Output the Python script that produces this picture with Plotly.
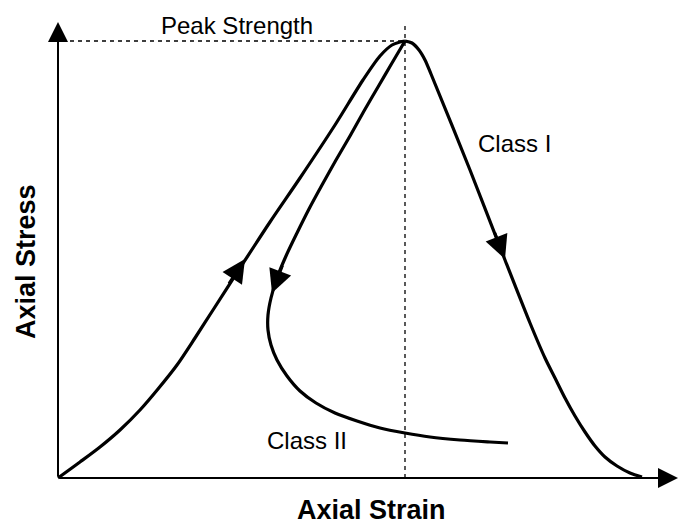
import plotly.graph_objects as go

# Arbitrary units: axial strain (x) and axial stress (y)
load_x = [0, 22, 42, 62, 82, 100, 119, 137, 155, 182, 212, 242, 277, 305, 322, 334, 342, 347]
load_y = [0, 16, 31, 48, 68, 89, 113, 140, 168, 210, 256, 300, 353, 398, 422, 433, 436, 437]

c1_x = [347, 354, 361, 367, 373, 412, 447, 472, 487, 497, 507, 517, 527, 537, 547, 559, 572, 584]
c1_y = [437, 435, 428, 418, 404, 308, 218, 155, 120, 100, 80, 62, 46, 32, 21, 12, 5, 1]

c2_x = [347, 334, 320, 306, 292, 278, 264, 251, 239, 228, 219, 213, 210, 210, 213, 219, 229,
        242, 258, 277, 299, 322, 347, 372, 402, 432, 450]
c2_y = [437, 415, 391, 367, 342, 318, 293, 269, 245, 222, 200, 180, 163, 148, 133, 118, 102,
        87, 75, 65, 57, 50, 45, 41, 38, 36, 35]

peak_x = 347
peak_y = 437
y_axis_top = 456
x_axis_end = 620

fig = go.Figure()

line_style = dict(color="black", width=3.2, shape="spline", smoothing=0.8)
for xs, ys in [(load_x, load_y), (c1_x, c1_y), (c2_x, c2_y)]:
    fig.add_trace(go.Scatter(x=xs, y=ys, mode="lines", line=line_style,
                             showlegend=False, hoverinfo="skip"))

dash_style = dict(color="black", width=1.3, dash="4px,4px")
fig.add_trace(go.Scatter(x=[4, peak_x], y=[peak_y, peak_y], mode="lines", line=dash_style,
                         showlegend=False, hoverinfo="skip"))
fig.add_trace(go.Scatter(x=[peak_x, peak_x], y=[0, 453], mode="lines", line=dash_style,
                         showlegend=False, hoverinfo="skip"))

annotations = []
# Axis arrows
annotations.append(dict(x=0, y=y_axis_top, ax=0, ay=0, xref="x", yref="y", axref="x", ayref="y",
                        text="", showarrow=True, arrowhead=2, arrowsize=2, arrowwidth=2,
                        arrowcolor="black"))
annotations.append(dict(x=x_axis_end, y=0, ax=0, ay=0, xref="x", yref="y", axref="x", ayref="y",
                        text="", showarrow=True, arrowhead=2, arrowsize=2, arrowwidth=2,
                        arrowcolor="black"))
# Direction arrows on curves (tip, tail)
for (tx, ty, bx, by) in [(187, 219, 170, 193), (447, 219, 436, 247), (214, 185, 225, 214)]:
    annotations.append(dict(x=tx, y=ty, ax=bx, ay=by, xref="x", yref="y", axref="x", ayref="y",
                            text="", showarrow=True, arrowhead=2, arrowsize=1.55, arrowwidth=3,
                            arrowcolor="black"))

font_n = dict(family="Liberation Sans, Arial, sans-serif", size=24, color="black")
font_b = dict(family="Liberation Sans, Arial, sans-serif", size=27, color="black")
annotations += [
    dict(x=179, y=453, xref="x", yref="y", text="Peak Strength", showarrow=False, font=font_n),
    dict(x=456, y=335, xref="x", yref="y", text="Class I", showarrow=False, font=font_n),
    dict(x=249, y=38, xref="x", yref="y", text="Class II", showarrow=False, font=font_n),
    dict(x=313, y=-32, xref="x", yref="y", text="<b>Axial Strain</b>", showarrow=False, font=font_b),
    dict(x=-32, y=216, xref="x", yref="y", text="<b>Axial Stress</b>", showarrow=False,
         textangle=-90, font=font_b),
]

fig.update_layout(
    width=679, height=524,
    margin=dict(l=0, r=0, t=0, b=0),
    paper_bgcolor="white", plot_bgcolor="white",
    xaxis=dict(range=[-58, 621], visible=False, fixedrange=True),
    yaxis=dict(range=[-46, 478], visible=False, fixedrange=True),
    annotations=annotations,
    showlegend=False,
)

fig.write_html("out.html", config={"displayModeBar": False},
               post_script="document.body.style.margin='0';")
